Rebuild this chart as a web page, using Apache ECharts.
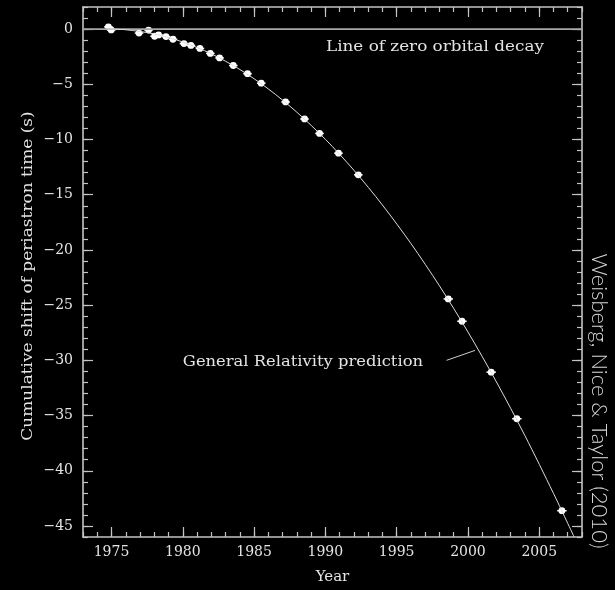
<!DOCTYPE html>
<html>
<head>
<meta charset="utf-8">
<script src="https://cdn.jsdelivr.net/npm/echarts@6/dist/echarts.min.js"></script>
<style>
  html, body { margin: 0; padding: 0; background: #000; }
  #chart { width: 615px; height: 590px; }
</style>
</head>
<body>
<div id="chart"></div>
<script>
// Measured periastron-time shifts of PSR B1913+16 (year, seconds, half-span in years)
const obsYears = [1974.78, 1974.98, 1976.93, 1977.60, 1978.02, 1978.30, 1978.82, 1979.31,
                  1980.08, 1980.57, 1981.20, 1981.93, 1982.58, 1983.54, 1984.54, 1985.50,
                  1987.21, 1988.54, 1989.59, 1990.92, 1992.31, 1998.62, 1999.58, 2001.63,
                  2003.43, 2006.59];
const obsShift = [0.20, -0.08, -0.36, -0.09, -0.65, -0.53, -0.68, -0.92,
                  -1.31, -1.48, -1.75, -2.20, -2.61, -3.30, -4.04, -4.90,
                  -6.60, -8.14, -9.45, -11.24, -13.20, -24.44, -26.46, -31.07,
                  -35.29, -43.62];
const obsYearErr = [0.3, 0.3, 0.3, 0.3, 0.3, 0.3, 0.3, 0.3,
                    0.3, 0.3, 0.3, 0.3, 0.3, 0.3, 0.3, 0.3,
                    0.3, 0.3, 0.3, 0.3, 0.3, 0.33, 0.33, 0.33,
                    0.33, 0.33];

// General Relativity prediction curve
const grYears = [1974.7, 1976, 1978, 1980, 1982, 1984, 1986, 1988, 1990, 1992,
                 1994, 1996, 1998, 2000, 2002, 2004, 2006, 2007.45];
const grShift = [0.0, -0.06, -0.44, -1.17, -2.24, -3.66, -5.42, -7.53, -9.98, -12.78,
                 -15.93, -19.42, -23.25, -27.43, -31.96, -36.83, -42.05, -46.0];

// Zero-decay reference line and the pointer to the GR curve
const zeroYears = [1973, 2008];
const zeroShift = [0, 0];
const pointerYears = [1998.5, 2000.5];
const pointerShift = [-30.0, -29.1];

// Axis ranges and labelled ticks
const yearMin = 1973, yearMax = 2008;
const shiftMin = -46, shiftMax = 2;
const yearTicks = [1975, 1980, 1985, 1990, 1995, 2000, 2005];
const shiftTicks = [-45, -40, -35, -30, -25, -20, -15, -10, -5, 0];

const pair = (xs, ys) => xs.map((x, i) => [x, ys[i]]);
const plain = v => String(v).replace('-', '\u2212');

const AXIS_COLOR = '#c4c4c4';
const TEXT_COLOR = '#e4e4e4';
const SERIF = '"DejaVu Serif", "Liberation Serif", serif';
const WIDE = 1.12; // horizontal stretch for the plotter-style lettering

function minorAxis(extra, min, max) {
  return Object.assign({
    type: 'value', min: min, max: max, interval: 1,
    axisLine: { show: true, onZero: false, lineStyle: { color: AXIS_COLOR, width: 1.6 } },
    axisTick: { show: true, inside: true, length: 5, lineStyle: { color: AXIS_COLOR, width: 1.2 } },
    axisLabel: { show: false },
    splitLine: { show: false }
  }, extra);
}
function majorAxis(extra, min, max, ticks, showLabels) {
  return Object.assign({
    type: 'value', min: min, max: max,
    axisLine: { show: false, onZero: false },
    axisTick: { show: true, inside: true, length: 10, customValues: ticks,
                lineStyle: { color: AXIS_COLOR, width: 1.2 } },
    axisLabel: { show: showLabels, customValues: ticks, color: TEXT_COLOR,
                 fontFamily: SERIF, fontSize: 14, formatter: plain },
    splitLine: { show: false }
  }, extra);
}

const chart = echarts.init(document.getElementById('chart'), null, { renderer: 'canvas' });

chart.setOption({
  backgroundColor: '#000',
  animation: false,
  grid: { left: 83, right: 33, top: 7, bottom: 45, containLabel: false },
  xAxis: [
    minorAxis({ position: 'bottom' }, yearMin, yearMax),
    majorAxis({ position: 'bottom', name: 'Year', nameLocation: 'middle', nameGap: 33,
                nameTextStyle: { color: TEXT_COLOR, fontFamily: SERIF, fontSize: 15 },
                axisLabel: { show: true, customValues: yearTicks, color: TEXT_COLOR,
                             fontFamily: SERIF, fontSize: 14, margin: 8, formatter: plain } },
              yearMin, yearMax, yearTicks, true),
    minorAxis({ position: 'top' }, yearMin, yearMax),
    majorAxis({ position: 'top' }, yearMin, yearMax, yearTicks, false)
  ],
  yAxis: [
    minorAxis({ position: 'left' }, shiftMin, shiftMax),
    majorAxis({ position: 'left',
                axisLabel: { show: true, customValues: shiftTicks, color: TEXT_COLOR,
                             fontFamily: SERIF, fontSize: 14, margin: 10, formatter: plain } },
              shiftMin, shiftMax, shiftTicks, true),
    minorAxis({ position: 'right' }, shiftMin, shiftMax),
    majorAxis({ position: 'right' }, shiftMin, shiftMax, shiftTicks, false)
  ],
  series: [
    {
      name: 'Line of zero orbital decay', type: 'line',
      data: pair(zeroYears, zeroShift), showSymbol: false, silent: true,
      lineStyle: { color: '#a8a8a8', width: 1.6 }
    },
    {
      name: 'General Relativity prediction', type: 'line',
      data: pair(grYears, grShift), showSymbol: false, smooth: 0.3, silent: true,
      lineStyle: { color: '#dcdcdc', width: 1 }
    },
    {
      name: 'pointer', type: 'line',
      data: pair(pointerYears, pointerShift), showSymbol: false, silent: true,
      lineStyle: { color: '#cfcfcf', width: 1 }
    },
    {
      name: 'Observed', type: 'custom',
      data: obsYears.map((x, i) => [x, obsShift[i], obsYearErr[i]]),
      renderItem: function (params, api) {
        const x = api.value(0), y = api.value(1), e = api.value(2);
        const p = api.coord([x, y]);
        const l = api.coord([x - e, y]);
        const r = api.coord([x + e, y]);
        return {
          type: 'group',
          children: [
            { type: 'line', shape: { x1: l[0], y1: l[1], x2: r[0], y2: r[1] },
              style: { stroke: '#ffffff', lineWidth: 1.5 } },
            { type: 'circle', shape: { cx: p[0], cy: p[1], r: 3.4 },
              style: { fill: '#ffffff' } }
          ]
        };
      }
    }
  ],
  graphic: [
    // vertical axis title
    { type: 'text', x: 28, y: 276, rotation: Math.PI / 2, scaleX: 1.13,
      style: { text: 'Cumulative shift of periastron time (s)', fill: TEXT_COLOR,
               font: '15px ' + SERIF, align: 'center', verticalAlign: 'middle' } },
    { type: 'text', x: 326, y: 47, scaleX: WIDE,
      style: { text: 'Line of zero orbital decay', fill: TEXT_COLOR,
               font: '15px ' + SERIF, align: 'left', verticalAlign: 'middle' } },
    { type: 'text', x: 423, y: 362, scaleX: 1.09,
      style: { text: 'General Relativity prediction', fill: TEXT_COLOR,
               font: '15px ' + SERIF, align: 'right', verticalAlign: 'middle' } },
    { type: 'text', x: 599, y: 401, rotation: -Math.PI / 2,
      style: { text: 'Weisberg, Nice & Taylor (2010)', fill: '#d6d6d6',
               font: '300 22px Lato, "Noto Sans", sans-serif',
               align: 'center', verticalAlign: 'middle' } }
  ]
});
</script>
</body>
</html>
